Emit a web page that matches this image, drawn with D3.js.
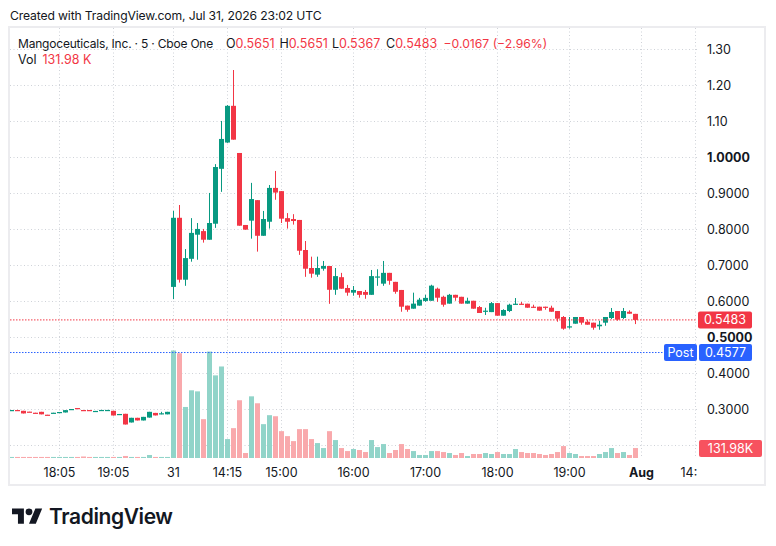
<!DOCTYPE html>
<html><head><meta charset="utf-8">
<script src="https://cdn.jsdelivr.net/npm/d3@7"></script>
<style>
body{margin:0;background:#fff;}
svg{display:block;font-family:Inter,"Noto Sans",sans-serif;}
</style>
</head><body>
<svg id="c" width="776" height="546"></svg>
<script>
// ---- DATA (pre-market bars then regular session bars, 5-min) ----
const openP = [0.2970,0.2980,0.2958,0.2935,0.2905,0.2930,0.2850,0.2898,0.2918,0.2912,0.3000,0.3035,0.2980,0.2980,0.2948,0.2975,0.2975,0.2958,0.2862,0.2875,0.2634,0.2764,0.2690,0.2770,0.2900,0.2862,0.2860,
 0.640,0.832,0.660,0.718,0.785,0.795,0.771,0.8155,0.968,1.041,1.143,1.012,0.812,0.824,0.881,0.782,0.821,0.915,0.906,0.831,0.8285,0.826,0.7425,0.6925,0.674,0.6905,0.698,0.632,0.667,0.637,0.624,0.6285,0.626,0.618,0.667,0.649,0.679,0.654,0.6315,0.588,0.5795,0.588,0.601,0.6015,0.635,0.6125,0.5935,0.618,0.6125,0.5935,0.6015,0.584,0.5711,0.570,0.595,0.560,0.573,0.5905,0.5933,0.5933,0.585,0.585,0.585,0.5822,0.573,0.5564,0.5286,0.5378,0.5564,0.5433,0.5406,0.5306,0.5406,0.5536,0.573,0.5536,0.571,0.5651];
const highP = [0.2980,0.2985,0.2958,0.2935,0.2905,0.2930,0.2850,0.2905,0.2925,0.2977,0.3008,0.3035,0.2980,0.2980,0.2955,0.2982,0.2982,0.2958,0.2870,0.2875,0.2764,0.2764,0.2790,0.2930,0.2900,0.2930,0.2930,
 0.851,0.8675,0.745,0.831,0.8175,0.801,0.901,0.981,1.101,1.145,1.2425,1.012,0.812,0.929,0.881,0.851,0.923,0.962,0.906,0.845,0.842,0.826,0.7675,0.724,0.724,0.712,0.698,0.6925,0.679,0.6455,0.6425,0.6285,0.6315,0.687,0.689,0.712,0.679,0.654,0.6315,0.588,0.624,0.6095,0.618,0.646,0.638,0.6155,0.6205,0.618,0.6125,0.610,0.6015,0.587,0.582,0.598,0.595,0.578,0.5933,0.609,0.598,0.5933,0.5905,0.585,0.585,0.5878,0.573,0.559,0.5564,0.5564,0.5564,0.5489,0.5406,0.546,0.5564,0.5814,0.573,0.5814,0.575,0.5651];
const lowP = [0.2970,0.2955,0.2885,0.2928,0.2898,0.2860,0.2845,0.2898,0.2918,0.2912,0.3000,0.3028,0.2973,0.2973,0.2948,0.2975,0.2975,0.2828,0.2862,0.2578,0.2634,0.2690,0.2690,0.2770,0.2830,0.2862,0.2860,
 0.606,0.652,0.643,0.710,0.7155,0.763,0.771,0.804,0.904,1.040,1.049,0.810,0.799,0.774,0.738,0.782,0.802,0.882,0.8175,0.802,0.813,0.729,0.668,0.6655,0.668,0.685,0.593,0.618,0.635,0.6155,0.6155,0.610,0.607,0.618,0.643,0.643,0.646,0.621,0.571,0.571,0.5795,0.588,0.5985,0.6015,0.5985,0.585,0.5935,0.6015,0.5935,0.5935,0.5795,0.5675,0.562,0.570,0.560,0.560,0.570,0.5905,0.5905,0.5822,0.5822,0.574,0.5767,0.571,0.5433,0.521,0.524,0.5378,0.535,0.535,0.521,0.521,0.532,0.5508,0.546,0.551,0.5655,0.5367];
const closeP = [0.2980,0.2975,0.2885,0.2928,0.2898,0.2860,0.2845,0.2905,0.2925,0.2977,0.3008,0.3028,0.2973,0.2973,0.2955,0.2982,0.2982,0.2828,0.2870,0.2578,0.2764,0.2690,0.2790,0.2930,0.2830,0.2890,0.2930,
 0.832,0.660,0.720,0.790,0.801,0.771,0.8175,0.973,1.051,1.143,1.049,0.810,0.799,0.884,0.782,0.8285,0.915,0.902,0.8295,0.821,0.823,0.7405,0.6905,0.6767,0.6925,0.698,0.632,0.670,0.635,0.624,0.6315,0.618,0.618,0.670,0.669,0.679,0.657,0.6265,0.585,0.5765,0.5935,0.6045,0.6095,0.6435,0.610,0.5905,0.618,0.610,0.5935,0.6015,0.5795,0.5675,0.574,0.595,0.560,0.5758,0.5905,0.5933,0.5905,0.5822,0.5822,0.574,0.582,0.571,0.5517,0.524,0.5305,0.5564,0.5406,0.535,0.5267,0.535,0.5564,0.5703,0.549,0.573,0.5655,0.5483];
const volumeK = [14,14,14,14,14,14,14,14,14,14,14,14,20,14,14,14,14,14,14,27,14,14,14,40,14,14,14,
 1426,1390,677,898,884,515,1412,1096,1214,251,396,766,66,818,726,449,568,554,356,290,224,383,383,251,198,132,356,238,132,92,119,106,79,238,145,185,66,106,185,119,92,40,40,92,92,79,66,40,66,26,53,53,66,53,79,53,53,119,79,66,66,53,40,53,79,158,66,53,26,26,26,53,79,132,66,79,40,131.98];
const firstSessionBar = 27;           // position of first regular-session bar ("31")
const priceTicks = [1.30,1.20,1.10,1.00,0.90,0.80,0.70,0.60,0.50,0.40,0.30,0.20];
const priceTickLabels = ["1.30","1.20","1.10","1.0000","0.9000","0.8000","0.7000","0.6000","0.5000","0.4000","0.3000",""];
const boldPriceTicks = ["1.0000","0.5000"];
const timeTickBars = [-19,-10,0,9,18,30,42,54,66,78,87];  // bar offsets from session open
const timeTickLabels = ["18:05","19:05","31","14:15","15:00","16:00","17:00","18:00","19:00","Aug","14:"];
const lastPrice = 0.5483, postPrice = 0.4577, lastVolLabel = "131.98K";
const symbolTitle = "Mangoceuticals, Inc. · 5 · Cboe One";
const ohlcLabels = ["O","H","L","C"];
const ohlcValues = ["0.5651","0.5651","0.5367","0.5483"];
const changeText = "−0.0167 (−2.96%)";

// ---- LAYOUT ----
const svg = d3.select("#c");
const L = 10, R = 697, T = 28, B = 458;
const RED = "#f23645", GREEN = "#089981", TXT = "#131722";
const x = d3.scaleLinear().domain([-27, 87]).range([11.5, 695.5]);
const y = d3.scaleLinear().domain([0.2, 1.3]).range([445.3, 49.3]);
const yv = d3.scaleLinear().domain([0, d3.max(volumeK)]).range([B, B - 0.25 * (B - T)]);

svg.append("text").attr("x", 10).attr("y", 20).attr("font-size", 12.2).attr("fill", TXT)
  .attr("letter-spacing", -0.15)
  .text("Created with TradingView.com, Jul 31, 2026 23:02 UTC");

svg.append("rect").attr("x", 9).attr("y", 27).attr("width", 756).attr("height", 458)
  .attr("fill", "none").attr("stroke", "#ececef").attr("stroke-width", 2);

svg.append("defs").append("clipPath").attr("id", "pl").append("rect")
  .attr("x", L).attr("y", T).attr("width", R - L).attr("height", B - T);

const plot = svg.append("g").attr("clip-path", "url(#pl)");

// grid
plot.selectAll(".hg").data(priceTicks).join("line")
  .attr("x1", L).attr("x2", R).attr("y1", d => Math.round(y(d)) + 0.5).attr("y2", d => Math.round(y(d)) + 0.5)
  .attr("stroke", "#cfd2d8").attr("stroke-dasharray", "1,2.5");
plot.selectAll(".vg").data(timeTickBars).join("line")
  .attr("x1", d => x(d)).attr("x2", d => x(d)).attr("y1", T).attr("y2", B)
  .attr("stroke", "#cfd2d8").attr("stroke-dasharray", "1,2.5");

const idx = d3.range(openP.length);
const bx = i => x(i - firstSessionBar);
const up = i => closeP[i] >= openP[i];

// volume
plot.selectAll(".vol").data(idx).join("rect")
  .attr("x", i => bx(i) - 2.5).attr("width", 5)
  .attr("y", i => yv(volumeK[i])).attr("height", i => Math.max(1, B - yv(volumeK[i])))
  .attr("fill", i => up(i) ? "#91d4c9" : "#f9a9ac");

// candles
plot.selectAll(".wick").data(idx).join("line")
  .attr("x1", bx).attr("x2", bx)
  .attr("y1", i => y(highP[i])).attr("y2", i => y(lowP[i]))
  .attr("stroke", i => up(i) ? GREEN : RED).attr("stroke-width", 1);
plot.selectAll(".body").data(idx).join("rect")
  .attr("x", i => bx(i) - 2.5).attr("width", 5)
  .attr("y", i => Math.min(y(openP[i]), y(closeP[i])))
  .attr("height", i => Math.max(1.2, Math.abs(y(openP[i]) - y(closeP[i]))))
  .attr("fill", i => up(i) ? GREEN : RED);

// price lines
plot.append("line").attr("x1", L).attr("x2", R).attr("y1", y(lastPrice)).attr("y2", y(lastPrice))
  .attr("stroke", RED).attr("stroke-dasharray", "1.5,1.5");
plot.append("line").attr("x1", L).attr("x2", 664).attr("y1", y(postPrice)).attr("y2", y(postPrice))
  .attr("stroke", "#2962ff").attr("stroke-dasharray", "1.5,1.5");

// price axis labels
svg.selectAll(".pl").data(priceTicks).join("text")
  .attr("x", 707).attr("y", d => y(d)).attr("dy", "0.35em")
  .attr("font-size", 12.5).attr("fill", TXT)
  .attr("font-weight", (d, i) => boldPriceTicks.includes(priceTickLabels[i]) ? 700 : 400)
  .text((d, i) => priceTickLabels[i]);

// value tags
function tag(x0, w, yc, fill, txt) {
  svg.append("rect").attr("x", x0).attr("y", yc - 8.5).attr("width", w).attr("height", 17).attr("rx", 2).attr("fill", fill);
  svg.append("text").attr("x", x0 + w / 2).attr("y", yc).attr("dy", "0.35em").attr("text-anchor", "middle")
    .attr("font-size", 12.5).attr("fill", "#fff").text(txt);
}
tag(698, 54, y(lastPrice), RED, lastPrice.toFixed(4));
tag(664, 33, y(postPrice), "#2962ff", "Post");
tag(699, 53, y(postPrice), "#2962ff", postPrice.toFixed(4));
tag(699, 63, B - 9.5, "#f7525f", lastVolLabel);

// time axis
svg.selectAll(".tl").data(timeTickBars).join("text")
  .attr("x", (d, i) => timeTickLabels[i] === "14:" ? x(d) - 15 : x(d))
  .attr("y", 477).attr("font-size", 12.5).attr("fill", TXT)
  .attr("text-anchor", (d, i) => timeTickLabels[i] === "14:" ? "start" : "middle")
  .attr("font-weight", (d, i) => timeTickLabels[i] === "Aug" ? 700 : 400)
  .text((d, i) => timeTickLabels[i]);

// legend
svg.append("text").attr("x", 18).attr("y", 48).attr("font-size", 12).attr("fill", TXT)
  .attr("letter-spacing", -0.2).text(symbolTitle);
const lx = [226, 279.5, 332, 386];
ohlcLabels.forEach((k, i) => {
  const t = svg.append("text").attr("x", lx[i]).attr("y", 48).attr("font-size", 12.5);
  t.append("tspan").attr("fill", TXT).text(k);
  t.append("tspan").attr("fill", RED).text(ohlcValues[i]);
});
svg.append("text").attr("x", 443.5).attr("y", 48).attr("font-size", 12.2).attr("fill", RED)
  .text(changeText);
const vt = svg.append("text").attr("x", 18).attr("y", 64).attr("font-size", 12.5);
vt.append("tspan").attr("fill", TXT).text("Vol");
vt.append("tspan").attr("fill", RED).attr("x", 42.5).text("131.98 K");

// logo
const logo = svg.append("g").attr("transform", "translate(12,505) scale(0.85)").attr("fill", TXT);
logo.append("path").attr("d", "M14 22H7V11H0V4h14v18zM28 22h-8l7.5-18h8L28 22z");
logo.append("circle").attr("cx", 20).attr("cy", 8).attr("r", 4);
svg.append("text").attr("x", 49).attr("y", 524).attr("font-size", 21).attr("font-weight", 600)
  .attr("letter-spacing", -0.4).attr("fill", TXT).text("TradingView");
</script>
</body></html>
